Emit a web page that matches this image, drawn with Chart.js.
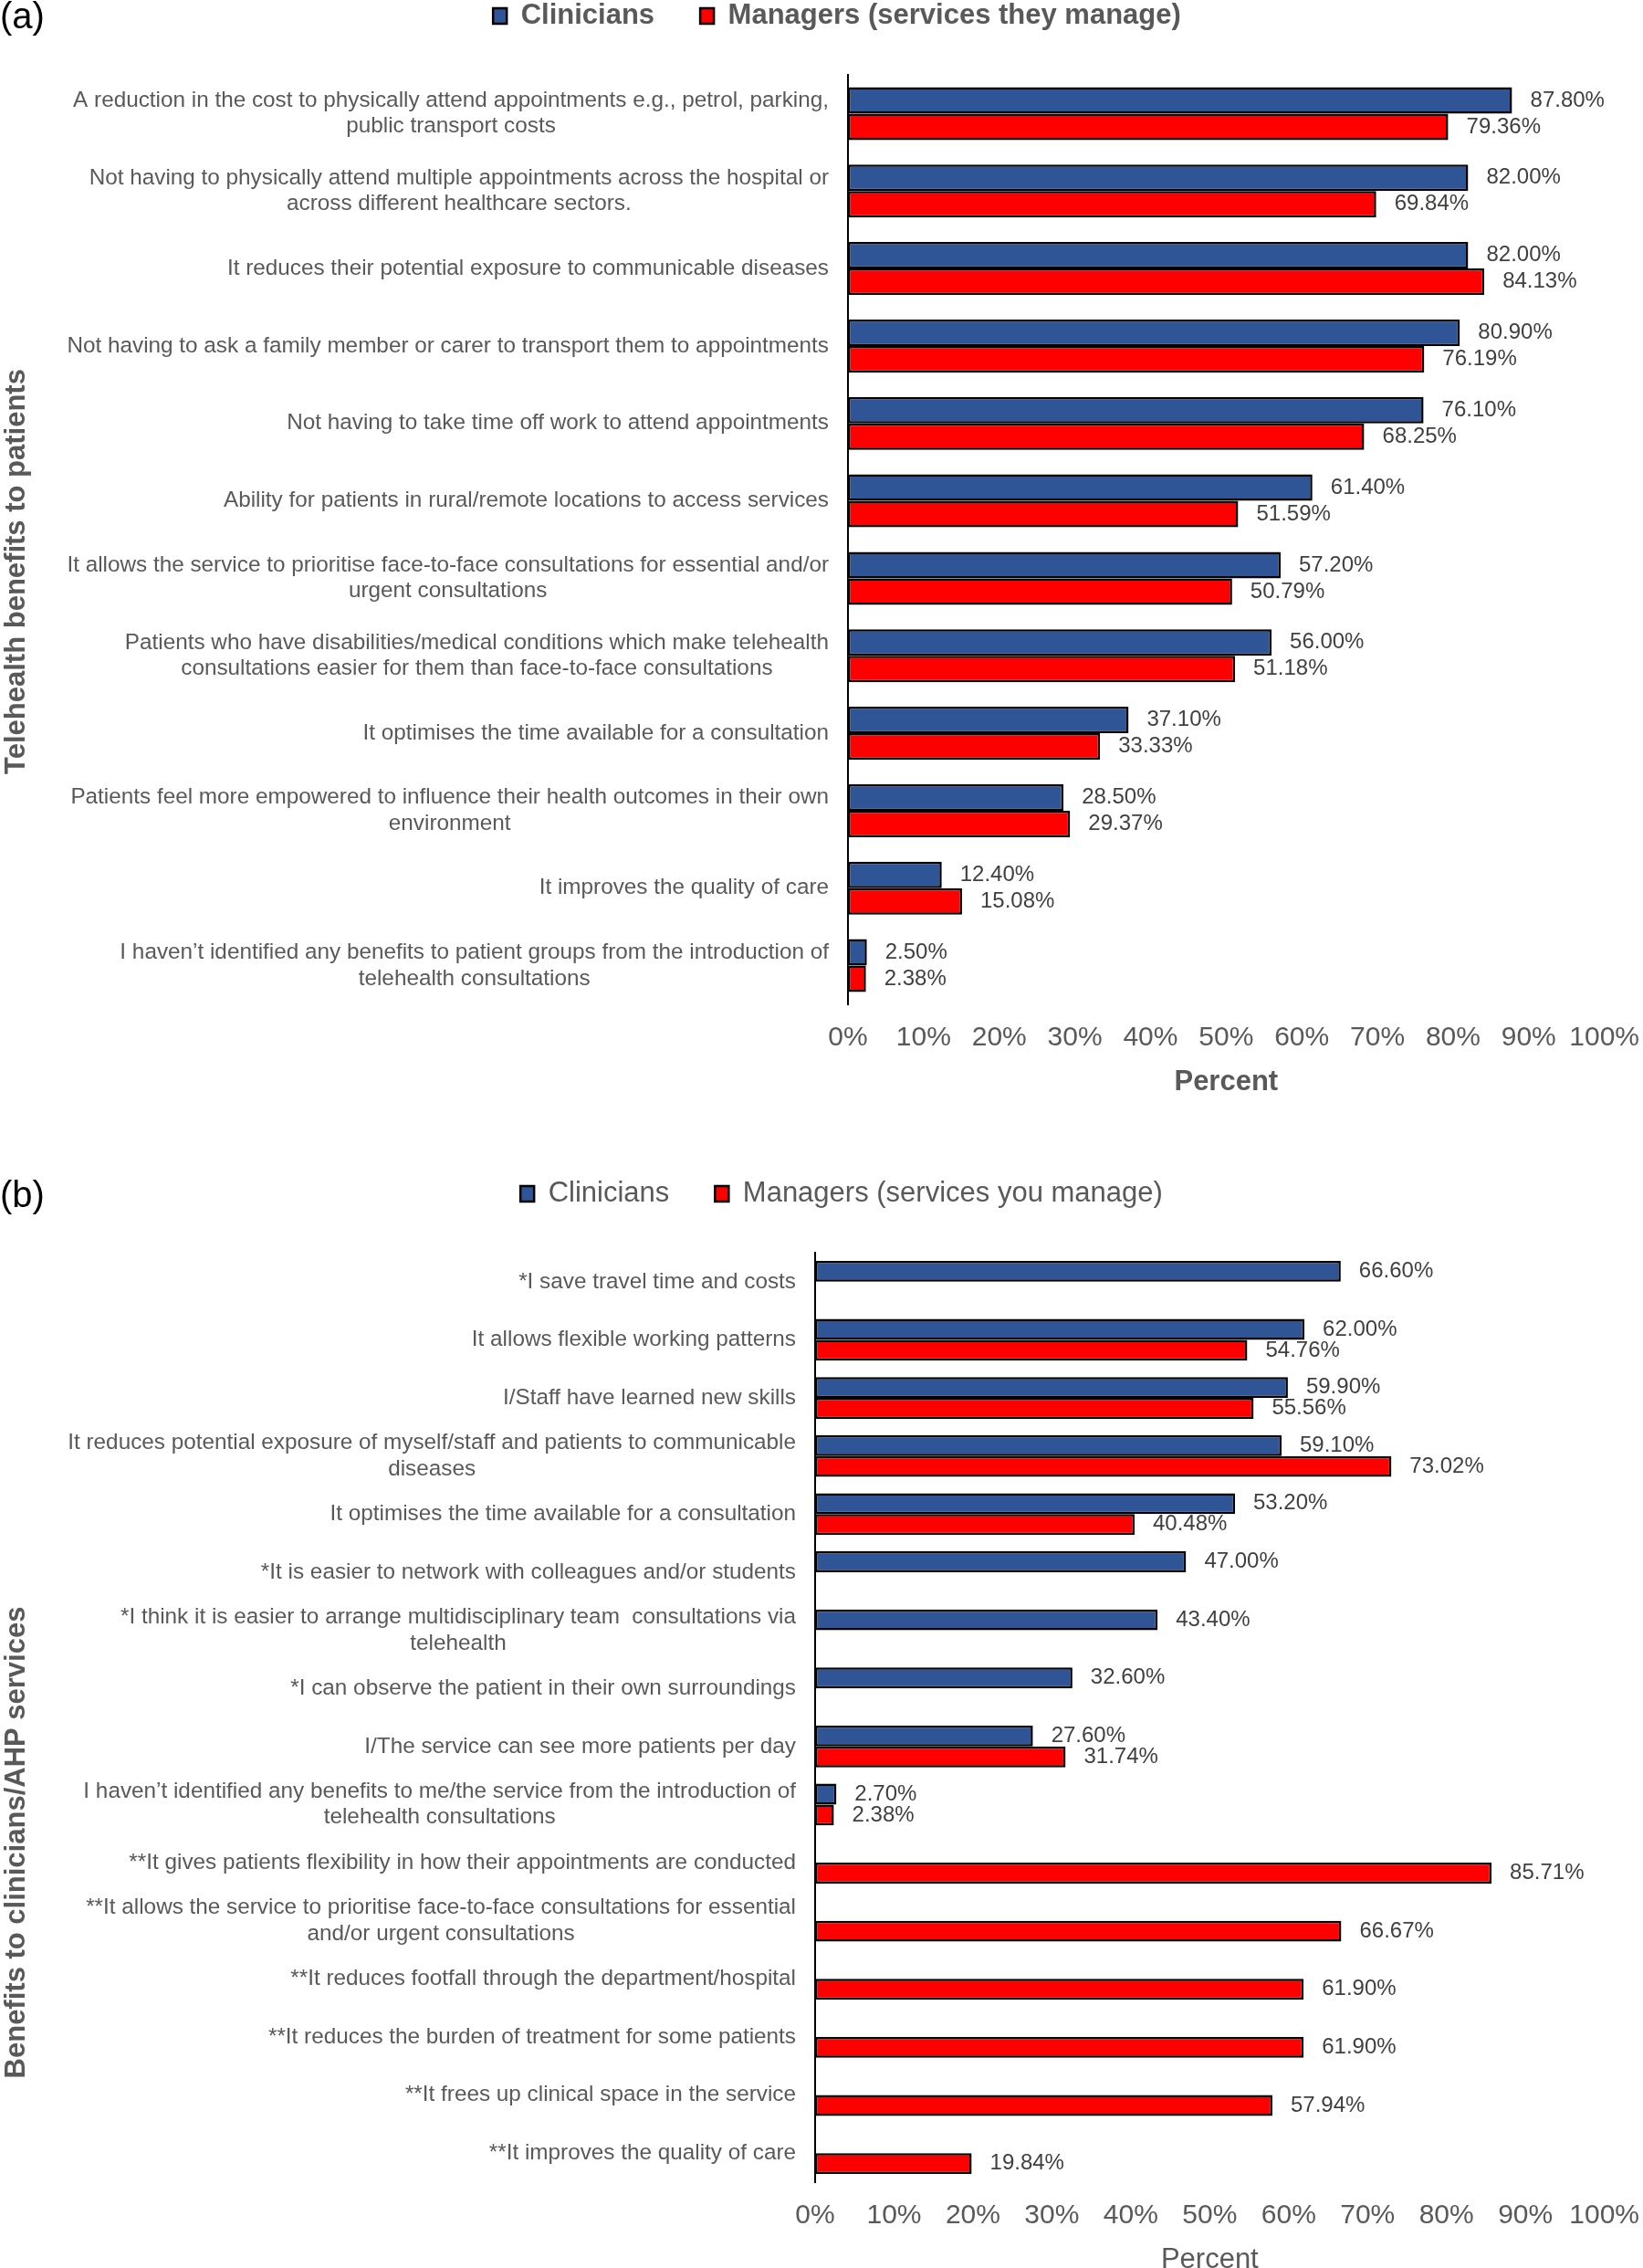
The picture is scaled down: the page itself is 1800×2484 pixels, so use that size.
<!DOCTYPE html>
<html>
<head>
<meta charset="utf-8">
<script src="https://cdn.jsdelivr.net/npm/chart.js@4.4.1/dist/chart.umd.min.js"></script>
<style>
  html, body { margin: 0; padding: 0; background: #fff; overflow: hidden; width: 1800px; height: 2484px; }
  body { position: relative; }
  canvas { position: absolute; left: 0; }
  #chartA { top: -48px; }
  #chartB { top: 1242px; }
  .panel { position: absolute; left: 0; z-index: 2; font: 40px "Liberation Sans", Arial, sans-serif; line-height: 1; color: #000; }
</style>
</head>
<body>
<canvas id="chartA" width="1815" height="1258"></canvas>
<canvas id="chartB" width="1815" height="1258"></canvas>
<div class="panel" style="top:-3px">(a)</div>
<div class="panel" style="top:1288px">(b)</div>
<script>
// (a) benefits to patients
var labelsA = [
    ['A reduction in the cost to physically attend appointments e.g., petrol, parking,', 'public transport costs'],
    ['Not having to physically attend multiple appointments across the hospital or', 'across different healthcare sectors.'],
    'It reduces their potential exposure to communicable diseases',
    'Not having to ask a family member or carer to transport them to appointments',
    'Not having to take time off work to attend appointments',
    'Ability for patients in rural/remote locations to access services',
    ['It allows the service to prioritise face-to-face consultations for essential and/or', 'urgent consultations'],
    ['Patients who have disabilities/medical conditions which make telehealth', 'consultations easier for them than face-to-face consultations'],
    'It optimises the time available for a consultation',
    ['Patients feel more empowered to influence their health outcomes in their own', 'environment'],
    'It improves the quality of care',
    ['I haven\u2019t identified any benefits to patient groups from the introduction of', 'telehealth consultations']
];
var cliniciansA = [87.80, 82.00, 82.00, 80.90, 76.10, 61.40, 57.20, 56.00, 37.10, 28.50, 12.40, 2.50];
var managersA = [79.36, 69.84, 84.13, 76.19, 68.25, 51.59, 50.79, 51.18, 33.33, 29.37, 15.08, 2.38];

// (b) benefits to clinicians / AHP services
var labelsB = [
    '*I save travel time and costs',
    'It allows flexible working patterns',
    'I/Staff have learned new skills',
    ['It reduces potential exposure of myself/staff and patients to communicable', 'diseases'],
    'It optimises the time available for a consultation',
    '*It is easier to network with colleagues and/or students',
    ['*I think it is easier to arrange multidisciplinary team  consultations via', 'telehealth'],
    '*I can observe the patient in their own surroundings',
    'I/The service can see more patients per day',
    ['I haven\u2019t identified any benefits to me/the service from the introduction of', 'telehealth consultations'],
    '**It gives patients flexibility in how their appointments are conducted',
    ['**It allows the service to prioritise face-to-face consultations for essential', 'and/or urgent consultations'],
    '**It reduces footfall through the department/hospital',
    '**It reduces the burden of treatment for some patients',
    '**It frees up clinical space in the service',
    '**It improves the quality of care'
];
var cliniciansB = [66.60, 62.00, 59.90, 59.10, 53.20, 47.00, 43.40, 32.60, 27.60, 2.70, null, null, null, null, null, null];
var managersB = [null, 54.76, 55.56, 73.02, 40.48, null, null, null, 31.74, 2.38, 85.71, 66.67, 61.90, 61.90, 57.94, 19.84];

var FONT = '"Liberation Sans", Arial, sans-serif';

// make room between legend and plot
var legendSpace = {
    id: 'legendSpace',
    beforeInit: function (chart, args, opts) {
        var fit = chart.legend.fit;
        chart.legend.fit = function () {
            fit.call(this);
            this.height = opts.height;
        };
    }
};

// category labels: block right aligned, lines centred inside the block
var categoryLabels = {
    id: 'categoryLabels',
    afterDraw: function (chart, args, opts) {
        var ctx = chart.ctx;
        var scale = chart.scales.y;
        var right = chart.chartArea.left - opts.gap;
        ctx.save();
        ctx.font = opts.size + 'px ' + FONT;
        ctx.fillStyle = '#595959';
        ctx.textAlign = 'center';
        ctx.textBaseline = 'middle';
        scale.getLabels().forEach(function (label, i) {
            var lines = Array.isArray(label) ? label : [label];
            var y = scale.getPixelForTick(i);
            var w = Math.max.apply(null, lines.map(function (l) { return ctx.measureText(l).width; }));
            lines.forEach(function (line, j) {
                ctx.fillText(line, right - w / 2, y + (j - (lines.length - 1) / 2) * opts.lineHeight);
            });
        });
        ctx.restore();
    }
};

// value labels at the end of each bar
var valueLabels = {
    id: 'valueLabels',
    afterDatasetsDraw: function (chart) {
        var ctx = chart.ctx;
        ctx.save();
        ctx.font = '24px ' + FONT;
        ctx.fillStyle = '#404040';
        ctx.textAlign = 'left';
        ctx.textBaseline = 'middle';
        chart.data.datasets.forEach(function (ds, di) {
            chart.getDatasetMeta(di).data.forEach(function (bar, i) {
                var v = ds.data[i];
                if (v === null || v === undefined) return;
                ctx.fillText(v.toFixed(2) + '%', bar.x + 20, bar.y);
            });
        });
        ctx.restore();
    }
};

// rotated title on the far left
var sideTitle = {
    id: 'sideTitle',
    afterDraw: function (chart, args, opts) {
        var ctx = chart.ctx;
        ctx.save();
        ctx.translate(opts.x, opts.y);
        ctx.rotate(-Math.PI / 2);
        ctx.font = 'bold 31px ' + FONT;
        ctx.fillStyle = '#595959';
        ctx.textAlign = 'center';
        ctx.textBaseline = 'middle';
        ctx.fillText(opts.text, 0, 0);
        ctx.restore();
    }
};

function drawPanel(id, labels, clin, mgr, cfg) {
    var weight = cfg.bold ? 'bold' : 'normal';
    return new Chart(document.getElementById(id), {
        type: 'bar',
        data: {
            labels: labels,
            datasets: [{
                label: 'Clinicians',
                data: clin,
                backgroundColor: '#2F5597',
                borderColor: '#000',
                borderWidth: 2.5,
                borderSkipped: false,
                categoryPercentage: cfg.catPct,
                barPercentage: 1
            }, {
                label: cfg.managerLabel,
                data: mgr,
                backgroundColor: '#FF0000',
                borderColor: '#000',
                borderWidth: 2.5,
                borderSkipped: false,
                categoryPercentage: cfg.catPct,
                barPercentage: 1
            }]
        },
        options: {
            indexAxis: 'y',
            responsive: false,
            animation: false,
            devicePixelRatio: 1,
            layout: { padding: { left: cfg.padLeft, right: 43, top: 0, bottom: 0 } },
            scales: {
                x: {
                    min: 0,
                    max: 100,
                    afterFit: function (s) { s.height = 110; },
                    grid: { display: false, drawTicks: false },
                    border: { display: false },
                    ticks: {
                        stepSize: 10,
                        padding: 19,
                        color: '#595959',
                        font: { family: FONT, size: 30 },
                        callback: function (v) { return v + '%'; }
                    },
                    title: {
                        display: true,
                        text: 'Percent',
                        color: '#595959',
                        font: { family: FONT, size: 31, weight: weight },
                        padding: { top: 0, bottom: 6 }
                    }
                },
                y: {
                    afterFit: function (s) { s.width = cfg.yWidth; },
                    grid: { display: false, drawTicks: false },
                    border: { color: '#000', width: 2 },
                    ticks: { display: false }
                }
            },
            plugins: {
                legend: {
                    position: 'top',
                    align: 'center',
                    labels: {
                        boxWidth: 15,
                        boxHeight: 17,
                        padding: 50,
                        color: '#595959',
                        font: { family: FONT, size: 31, weight: weight }
                    }
                },
                tooltip: { enabled: false },
                legendSpace: { height: 130 },
                categoryLabels: { gap: 21, size: 24.3, lineHeight: 28.5 },
                sideTitle: { text: cfg.sideTitle, x: 18, y: cfg.sideY }
            }
        },
        plugins: [legendSpace, categoryLabels, valueLabels, sideTitle]
    });
}

drawPanel('chartA', labelsA, cliniciansA, managersA, {
    bold: true,
    managerLabel: 'Managers (services they manage)',
    catPct: 0.684,
    padLeft: 62,
    yWidth: 867,
    sideTitle: 'Telehealth benefits to patients',
    sideY: 674
});

drawPanel('chartB', labelsB, cliniciansB, managersB, {
    bold: false,
    managerLabel: 'Managers (services you manage)',
    catPct: 0.72,
    padLeft: 72,
    yWidth: 821,
    sideTitle: 'Benefits to clinicians/AHP services',
    sideY: 776
});
</script>
</body>
</html>
